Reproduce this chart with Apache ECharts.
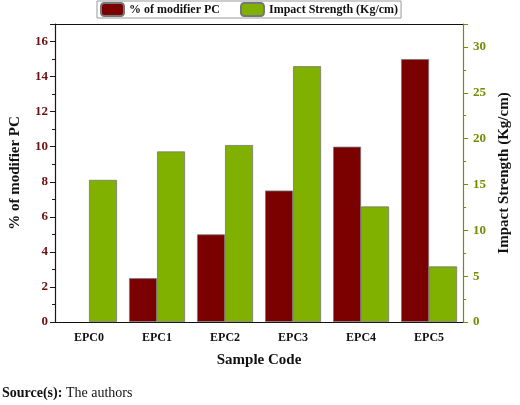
<!DOCTYPE html>
<html><head><meta charset="utf-8">
<script src="https://cdn.jsdelivr.net/npm/echarts@6/dist/echarts.min.js"></script>
<style>html,body{margin:0;padding:0;background:#fff}#c{width:520px;height:405px}</style>
</head><body><div id="c"></div>
<script>
const categories = ['EPC0','EPC1','EPC2','EPC3','EPC4','EPC5'];
const modifierPC = [0, 2.5, 5, 7.5, 10, 15];
const impactStrength = [15.5, 18.6, 19.3, 27.9, 12.6, 6.06];
const leftTicks = {min: 0, max: 17, interval: 2};
const rightTicks = {min: 0, max: 32.5, interval: 5};

const F = 'Liberation Serif';
const RED = '#7b0000', GREEN = '#80b000';
const LRED = '#6b1010', LGREEN = '#6f8f00';
const noZeroBorder = arr => arr.map(v => v === 0 ? {value: v, itemStyle: {borderWidth: 0}} : v);
const chart = echarts.init(document.getElementById('c'));
chart.setOption({
  animation: false,
  textStyle: {fontFamily: F},
  legend: {
    top: 1, left: 97, itemGap: 20, itemWidth: 23, itemHeight: 13,
    borderColor: '#999', borderWidth: 1, padding: [1, 3, 1, 3],
    textStyle: {fontFamily: F, fontWeight: 'bold', fontSize: 12, color: '#111'},
    data: ['% of modifier PC', 'Impact Strength (Kg/cm)']
  },
  grid: {left: 52, right: 51, top: 24, bottom: 83},
  xAxis: [
    {type: 'category', data: categories, position: 'bottom',
     axisLine: {lineStyle: {color: '#111', width: 1.2}},
     axisTick: {alignWithLabel: true, length: 6, lineStyle: {color: '#111'}},
     axisLabel: {fontFamily: F, fontWeight: 'bold', fontSize: 12, color: '#111', margin: 10},
     name: 'Sample Code', nameLocation: 'middle', nameGap: 31,
     nameTextStyle: {fontFamily: F, fontWeight: 'bold', fontSize: 15, color: '#111'}},
    {type: 'category', data: categories, position: 'bottom', gridIndex: 0,
     axisLine: {show: false},
     axisTick: {alignWithLabel: false, length: 3, lineStyle: {color: '#111'}},
     axisLabel: {show: false}},
    {type: 'category', data: categories, position: 'top',
     axisLine: {lineStyle: {color: '#111', width: 1.2}},
     axisTick: {alignWithLabel: true, inside: true, length: 5, lineStyle: {color: '#111'}},
     axisLabel: {show: false}},
    {type: 'category', data: categories, position: 'top',
     axisLine: {show: false},
     axisTick: {alignWithLabel: false, inside: true, length: 3, lineStyle: {color: '#111'}},
     axisLabel: {show: false}}
  ],
  yAxis: [
    {type: 'value', position: 'left', min: leftTicks.min, max: leftTicks.max, interval: leftTicks.interval,
     splitLine: {show: false},
     axisLine: {show: true, lineStyle: {color: '#2a1010', width: 1.2}},
     axisTick: {show: true, length: 5, lineStyle: {color: '#2a1010'}},
     minorTick: {show: true, splitNumber: 2, length: 3, lineStyle: {color: '#2a1010'}},
     axisLabel: {showMaxLabel: false, fontFamily: F, fontWeight: 'bold', fontSize: 13, color: LRED, margin: 7},
     name: '% of modifier PC', nameLocation: 'middle', nameGap: 32, nameRotate: 90,
     nameTextStyle: {fontFamily: F, fontWeight: 'bold', fontSize: 15, color: '#111'}},
    {type: 'value', position: 'right', min: rightTicks.min, max: rightTicks.max, interval: rightTicks.interval,
     splitLine: {show: false},
     axisLine: {show: true, lineStyle: {color: LGREEN, width: 1.2}},
     axisTick: {show: true, length: 5, lineStyle: {color: LGREEN}},
     minorTick: {show: true, splitNumber: 2, length: 3, lineStyle: {color: LGREEN}},
     axisLabel: {showMaxLabel: false, fontFamily: F, fontWeight: 'bold', fontSize: 13, color: LGREEN, margin: 10},
     name: 'Impact Strength (Kg/cm)', nameLocation: 'middle', nameGap: 32, nameRotate: 90,
     nameTextStyle: {fontFamily: F, fontWeight: 'bold', fontSize: 15, color: '#111'}}
  ],
  series: [
    {name: '% of modifier PC', type: 'bar', xAxisIndex: 0, yAxisIndex: 0, data: noZeroBorder(modifierPC),
     barWidth: 28, barGap: '0%',
     itemStyle: {color: RED, borderColor: '#777', borderWidth: 0.8}},
    {name: 'Impact Strength (Kg/cm)', type: 'bar', xAxisIndex: 0, yAxisIndex: 1, data: noZeroBorder(impactStrength),
     barWidth: 28, barGap: '0%',
     itemStyle: {color: GREEN, borderColor: '#777', borderWidth: 0.8}}
  ],
  graphic: [{
    type: 'text', left: 2, top: 386,
    style: {rich: {b: {fontFamily: F, fontWeight: 'bold', fontSize: 14, fill: '#111'},
                   n: {fontFamily: F, fontSize: 14, fill: '#111'}},
            text: '{b|Source(s):}{n| The authors}'}
  }]
});
</script></body></html>
